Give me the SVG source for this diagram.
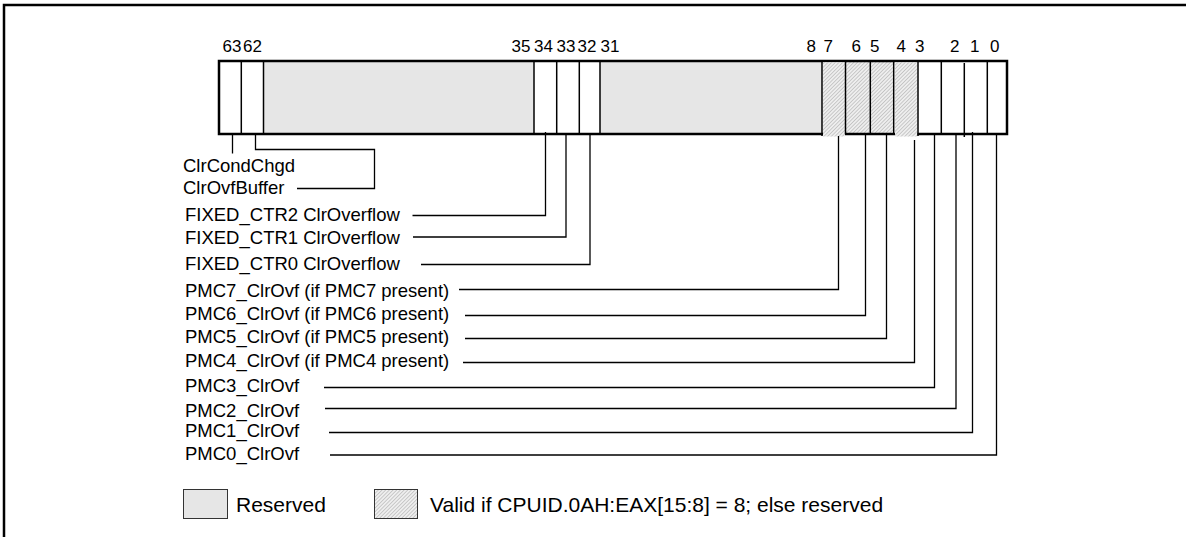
<svg xmlns="http://www.w3.org/2000/svg" width="1186" height="537" viewBox="0 0 1186 537">
<style>
  text { font-family: "Liberation Sans", Arial, sans-serif; fill: #000; }
  .bitn { font-size: 17px; }
  .lbl { font-size: 18.5px; }
  .leg { font-size: 21px; }
  .frame { fill: none; stroke: #000; stroke-width: 2.5; }
  .border { fill: none; stroke: #000; stroke-width: 2.5; }
  .div { stroke: #000; stroke-width: 1.5; }
  .res { fill: #e6e6e6; }
  .hat { fill: url(#hatch); }
  .conn { fill: none; stroke: #000; stroke-width: 1.3; }
</style>
<defs>
  <pattern id="hatch" patternUnits="userSpaceOnUse" width="2.6" height="2.6" patternTransform="rotate(45)">
    <rect width="2.6" height="2.6" fill="#eeeeee"/>
    <line x1="0" y1="0" x2="0" y2="2.6" stroke="#9a9a9a" stroke-width="0.9"/>
  </pattern>
</defs>
<rect width="1186" height="537" fill="#fff"/>
<path class="frame" d="M4 537 V5 H1186"/>

<g id="register">
  <rect class="res" x="264" y="62" width="270" height="71"/>
  <rect class="res" x="600" y="62" width="222" height="71"/>
  <rect class="hat" x="846" y="62" width="24" height="71"/>
  <rect class="hat" x="871" y="62" width="22" height="71"/>
  <rect class="border" x="219" y="61" width="788" height="73"/>
  <rect class="hat" x="823" y="62.5" width="22" height="74"/>
  <rect class="hat" x="895" y="62.5" width="22.5" height="74"/>
  <line class="div" x1="241.3" y1="61" x2="241.3" y2="134"/>
  <line class="div" x1="263.5" y1="61" x2="263.5" y2="134"/>
  <line class="div" x1="534" y1="61" x2="534" y2="134"/>
  <line class="div" x1="556.7" y1="61" x2="556.7" y2="134"/>
  <line class="div" x1="579.3" y1="61" x2="579.3" y2="134"/>
  <line class="div" x1="600" y1="61" x2="600" y2="134"/>
  <line class="div" x1="822" y1="61" x2="822" y2="136"/>
  <line class="div" x1="845.5" y1="61" x2="845.5" y2="134"/>
  <line class="div" x1="870.3" y1="61" x2="870.3" y2="134"/>
  <line class="div" x1="893.7" y1="61" x2="893.7" y2="134"/>
  <line class="div" x1="918" y1="61" x2="918" y2="136"/>
  <line class="div" x1="941.3" y1="61" x2="941.3" y2="134"/>
  <line class="div" x1="964.3" y1="63" x2="964.3" y2="137"/>
  <line class="div" x1="987.3" y1="61" x2="987.3" y2="134"/>
</g>

<g id="bit-numbers" class="bitn">
  <text x="222.5" y="52">63</text>
  <text x="243" y="52">62</text>
  <text x="511.5" y="52">35</text>
  <text x="534" y="52">34</text>
  <text x="556.5" y="52">33</text>
  <text x="577.5" y="52">32</text>
  <text x="600.5" y="52">31</text>
  <text x="806.5" y="52">8</text>
  <text x="823.5" y="52">7</text>
  <text x="851.5" y="52">6</text>
  <text x="870" y="52">5</text>
  <text x="896.5" y="52">4</text>
  <text x="915" y="52">3</text>
  <text x="950" y="52">2</text>
  <text x="970" y="52">1</text>
  <text x="990" y="52">0</text>
</g>

<g id="connectors">
  <path class="conn" d="M232.5 134 V153.5"/>
  <path class="conn" d="M255.5 134 V149.5 H374.5 V188.5 H297"/>
  <path class="conn" d="M545.5 132 V215.5 H412.5"/>
  <path class="conn" d="M566 134 V237 H413"/>
  <path class="conn" d="M590 134 V264.5 H421"/>
  <path class="conn" d="M838.5 136 V289.5 H459"/>
  <path class="conn" d="M865.5 134 V315.5 H465"/>
  <path class="conn" d="M886.5 134 V338.5 H465"/>
  <path class="conn" d="M914.5 140 V362.5 H463"/>
  <path class="conn" d="M934.5 134 V387.5 H324"/>
  <path class="conn" d="M956 134 V408.5 H325"/>
  <path class="conn" d="M972.5 132 V432.5 H329"/>
  <path class="conn" d="M996.5 134 V455 H330"/>
</g>

<g id="labels" class="lbl">
  <text id="lbl-clrcondchgd" x="183" y="172">ClrCondChgd</text>
  <text id="lbl-clrovfbuffer" x="183" y="193.5">ClrOvfBuffer</text>
  <text id="lbl-fixed2" x="185" y="220.5">FIXED_CTR2 ClrOverflow</text>
  <text id="lbl-fixed1" x="185" y="243.5">FIXED_CTR1 ClrOverflow</text>
  <text id="lbl-fixed0" x="185" y="270">FIXED_CTR0 ClrOverflow</text>
  <text id="lbl-pmc7" x="185" y="296.5">PMC7_ClrOvf (if PMC7 present)</text>
  <text id="lbl-pmc6" x="185" y="320">PMC6_ClrOvf (if PMC6 present)</text>
  <text id="lbl-pmc5" x="185" y="343">PMC5_ClrOvf (if PMC5 present)</text>
  <text id="lbl-pmc4" x="185" y="367">PMC4_ClrOvf (if PMC4 present)</text>
  <text id="lbl-pmc3" x="185" y="392">PMC3_ClrOvf</text>
  <text id="lbl-pmc2" x="185" y="417">PMC2_ClrOvf</text>
  <text id="lbl-pmc1" x="185" y="437">PMC1_ClrOvf</text>
  <text id="lbl-pmc0" x="185" y="460">PMC0_ClrOvf</text>
</g>

<g id="legend-reserved">
  <rect x="183.5" y="489.5" width="44" height="29" fill="#e6e6e6" stroke="#333" stroke-width="1"/>
  <text class="leg" x="236" y="512">Reserved</text>
</g>
<g id="legend-valid">
  <rect x="374.5" y="489.5" width="43" height="29" fill="url(#hatch)" stroke="#333" stroke-width="1"/>
  <text class="leg" x="430" y="512">Valid if CPUID.0AH:EAX[15:8] = 8; else reserved</text>
</g>
</svg>
